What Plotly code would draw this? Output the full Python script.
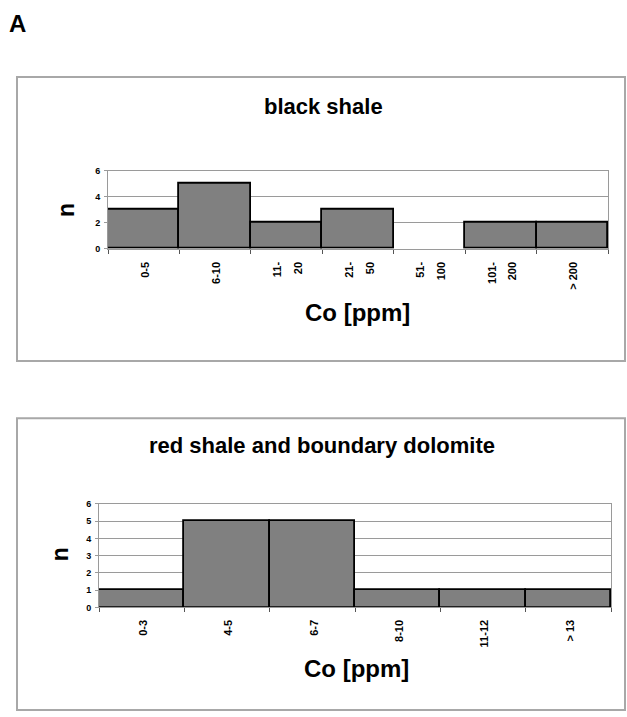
import plotly.graph_objects as go

# Co content histograms (counts per concentration class)
black_classes = ["0-5", "6-10", "11-<br>20", "21-<br>50", "51-<br>100", "101-<br>200", "> 200"]
black_counts = [3, 5, 2, 3, 0, 2, 2]

red_classes = ["0-3", "4-5", "6-7", "8-10", "11-12", "> 13"]
red_counts = [1, 5, 5, 1, 1, 1]

W, H = 627, 717
FONT = "Liberation Sans, Arial, sans-serif"
BAR_FILL = "#808080"
GRID = "#9a9a9a"


def px(x):
    return x / W


def py(y):
    return 1 - y / H


def small(labels):
    # glyphs drawn at 11px while the tick font (16px) sets the line spacing
    return ["<span style='font-size:11px'>%s</span>" % s.replace("<br>", "</span><br><span style='font-size:11px'>")
            for s in labels]


def outline(counts):
    # empty classes get no outline, so the axis line stays grey there
    return [1.8 if c > 0 else 0 for c in counts]


fig = go.Figure()

fig.add_trace(go.Bar(
    x=black_classes, y=black_counts, xaxis="x", yaxis="y",
    marker=dict(color=BAR_FILL, line=dict(color="black", width=outline(black_counts))),
    width=1.0, showlegend=False,
))
fig.add_trace(go.Bar(
    x=red_classes, y=red_counts, xaxis="x2", yaxis="y2",
    marker=dict(color=BAR_FILL, line=dict(color="black", width=outline(red_counts))),
    width=1.0, showlegend=False,
))

xtick_font = dict(family=FONT, size=16, color="black", weight="bold")
ytick_font = dict(family=FONT, size=9, color="black", weight="bold")

xaxis_common = dict(
    type="category", tickangle=-90, tickfont=xtick_font,
    ticks="outside", tickson="boundaries", ticklen=4, tickcolor="#555555",
    showline=True, linecolor=GRID, linewidth=1, mirror=True,
    showgrid=False, fixedrange=True,
)
yaxis_common = dict(
    tickfont=ytick_font, ticks="outside", ticklen=3, tickcolor=GRID,
    showline=True, linecolor=GRID, linewidth=1, mirror=True,
    showgrid=True, gridcolor=GRID, gridwidth=1, zeroline=False,
    fixedrange=True, ticklabelstandoff=2,
)

fig.update_layout(
    width=W, height=H,
    margin=dict(l=0, r=0, t=0, b=0),
    paper_bgcolor="white", plot_bgcolor="white",
    bargap=0,
    xaxis=dict(domain=[px(108), px(608)], anchor="y",
               tickvals=black_classes, ticktext=small(black_classes),
               ticklabelstandoff=6, **xaxis_common),
    yaxis=dict(domain=[py(247), py(168)], anchor="x", range=[0, 6],
               tickvals=[0, 2, 4, 6], **yaxis_common),
    xaxis2=dict(domain=[px(99), px(611)], anchor="y2",
                tickvals=red_classes, ticktext=small(red_classes),
                ticklabelstandoff=5, **xaxis_common),
    yaxis2=dict(domain=[py(611), py(506)], anchor="x2", range=[0, 6],
                tickvals=[0, 1, 2, 3, 4, 5, 6], **yaxis_common),
)

# panel frames
frame = dict(type="rect", xref="paper", yref="paper",
             line=dict(color="#a8a8a8", width=2), fillcolor="rgba(0,0,0,0)",
             layer="below")
fig.add_shape(x0=px(17), x1=px(625), y0=py(361), y1=py(73), **frame)
fig.add_shape(x0=px(17), x1=px(625), y0=py(715), y1=py(419), **frame)


def label(text, x, y, size, angle=0):
    fig.add_annotation(text=text, x=px(x), y=py(y), xref="paper", yref="paper",
                       showarrow=False,
                       font=dict(family=FONT, size=size, color="black", weight="bold"),
                       textangle=angle, xanchor="center", yanchor="middle")


label("A", 17, 19, 24)
label("black shale", 323, 103, 22)
label("red shale and boundary dolomite", 322, 447, 22)
label("Co [ppm]", 357, 312, 24)
label("Co [ppm]", 356, 673, 24)
label("n", 66, 208, 23, angle=-90)
label("n", 60, 557, 23, angle=-90)

fig.write_html("out.html")
